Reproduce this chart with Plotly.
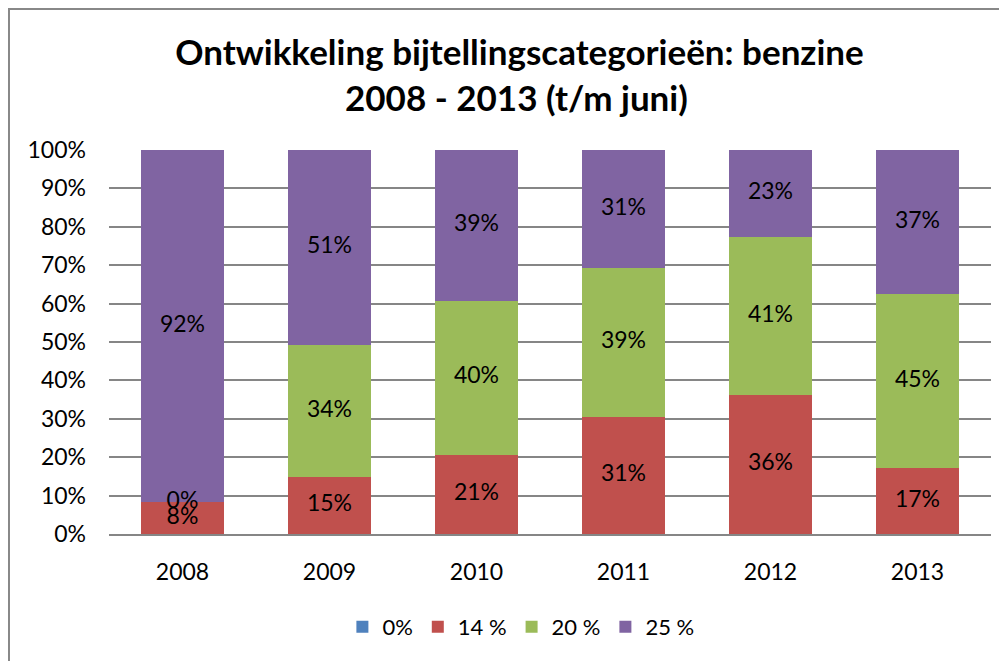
import plotly.graph_objects as go

years = ["2008", "2009", "2010", "2011", "2012", "2013"]
cat_0 = [0, 0, 0, 0, 0, 0]
cat_14 = [8.3, 14.8, 20.6, 30.6, 36.1, 17.2]
cat_20 = [0.0, 34.4, 40.2, 38.7, 41.2, 45.4]
cat_25 = [91.7, 50.8, 39.2, 30.7, 22.7, 37.4]

series = [
    ("0%", cat_0, "#4F81BD", False),
    ("14 %", cat_14, "#C0504D", True),
    ("20 %", cat_20, "#9BBB59", True),
    ("25 %", cat_25, "#8064A2", True),
]

FONT = "Lato, 'Open Sans', sans-serif"

fig = go.Figure()
base = [0.0] * len(years)
for name, vals, color, labelled in series:
    fig.add_trace(go.Bar(x=years, y=vals, name=name, marker_color=color,
                         marker_line_width=0))
    if labelled:
        mids = [b + v / 2 for b, v in zip(base, vals)]
        fig.add_trace(go.Scatter(x=years, y=mids, mode="text",
                                 text=["%d%%" % round(v) for v in vals],
                                 textfont=dict(size=23, color="black", family=FONT),
                                 showlegend=False, hoverinfo="skip",
                                 cliponaxis=False))
    base = [b + v for b, v in zip(base, vals)]

# page has an 8px body margin, so the figure is a bit smaller and shifted
fig.update_layout(
    barmode="stack",
    bargap=0.43,
    width=999, height=653,
    margin=dict(l=101, r=16, t=142, b=127),
    paper_bgcolor="white", plot_bgcolor="white",
    font=dict(family=FONT, size=23, color="black"),
    title=dict(text="<b>Ontwikkeling bijtellingscategorieën: benzine</b>",
               x=0.512, xanchor="center", y=0.932, yanchor="middle",
               font=dict(size=35, family=FONT, color="black")),
    legend=dict(orientation="h", x=0.467, xanchor="center", y=-0.242, yanchor="middle",
                font=dict(size=22), traceorder="normal"),
    showlegend=True,
)
fig.add_annotation(text="<b>2008 - 2013 (t/m juni)</b>", xref="paper", yref="paper",
                   x=0.462, y=1.138, xanchor="center", yanchor="middle",
                   showarrow=False, font=dict(size=35, family=FONT, color="black"))
fig.update_xaxes(showline=True, linecolor="#868686", linewidth=2, ticks="",
                 tickfont=dict(size=23), ticklabelstandoff=16)
fig.update_yaxes(range=[0, 100], dtick=10, ticksuffix="%", showgrid=True,
                 gridcolor="#868686", gridwidth=1.5, zeroline=False, ticks="",
                 tickfont=dict(size=23), showline=False, ticklabelstandoff=22)

# outer chart border
fig.add_shape(type="rect", xref="paper", yref="paper",
              x0=-0.1134, x1=1.03, y0=-0.36, y1=1.367,
              line=dict(color="#888888", width=2), layer="below")

fig.write_html("out.html")
